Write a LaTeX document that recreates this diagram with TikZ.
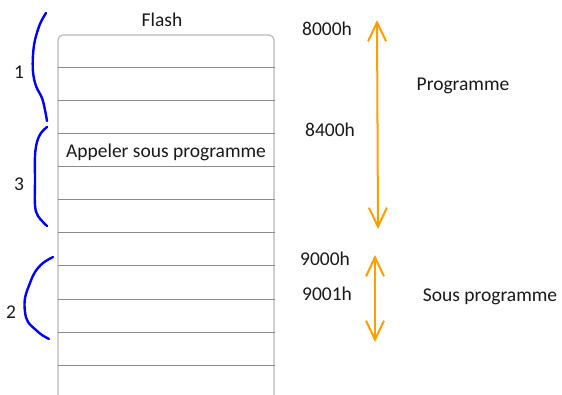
\documentclass[tikz,border=0pt]{standalone}
\usepackage{fontspec}
\setmainfont{Carlito}
\usetikzlibrary{arrows.meta}
\definecolor{arroworange}{RGB}{255,158,0}
\definecolor{braceblue}{RGB}{0,0,255}
\definecolor{rowgray}{RGB}{140,140,140}
\definecolor{sidegray}{RGB}{185,185,185}
\tikzset{
  lbl/.style={font=\fontsize{19.5}{23}\selectfont, inner sep=0pt, text=black!90},
  rowline/.style={rowgray, line width=1pt},
  sideline/.style={sidegray, line width=1.2pt, rounded corners=5pt},
  bracestroke/.style={braceblue, line width=2.4pt, line cap=round, line join=round},
  span/.style={arroworange, line width=2pt,
    {Straight Barb[length=19pt,width=18pt,line width=2pt]}-{Straight Barb[length=19pt,width=18pt,line width=2pt]}}
}
\begin{document}
\begin{tikzpicture}[x=1pt,y=-1pt]
\useasboundingbox (0,0) rectangle (562,395);

% memory column: sides and rounded top
\draw[sideline] (58,395) |- (274,35) -- (274,395);
\foreach \yy in {68,101,134,167,200,233,266,299,332,365}
  \draw[rowline] (58,\yy) -- (275,\yy);

\node[lbl] (flash) at (162,20) {Flash};
\node[lbl] (call) at (166,152) {Appeler sous programme};

% hand-drawn blue braces
\draw[bracestroke] plot[smooth, tension=0.6] coordinates
  {(46,13) (40,24) (35,40) (33,55) (33,72) (36,86) (42,98) (45,110) (47,121)};
\draw[bracestroke] plot[smooth, tension=0.6] coordinates
  {(47,127) (41,133) (37,142) (35,156) (35,180) (35,205) (38,216) (47,226)};
\draw[bracestroke] plot[smooth, tension=0.6] coordinates
  {(53,257) (43,263) (35,272) (30,283) (25,298) (25,312) (28,322) (36,330) (42,335) (49,339)};

\node[lbl] (n1) at (19,72) {1};
\node[lbl] (n3) at (19,184) {3};
\node[lbl] (n2) at (11,312) {2};

% address labels
\node[lbl] (a8000) at (327,29) {8000h};
\node[lbl] (a8400) at (330,130) {8400h};
\node[lbl] (a9000) at (325,259) {9000h};
\node[lbl] (a9001) at (327,294) {9001h};

\node[lbl] (prog) at (463,86) {Programme};
\node[lbl] (sprog) at (490,297) {Sous programme};

% extent arrows
\coordinate (p1) at (377,20);
\coordinate (p2) at (378,229);
\coordinate (s1) at (375,255);
\coordinate (s2) at (375,342);
\draw[span] (p1) -- (p2);
\draw[span] (s1) -- (s2);
\end{tikzpicture}
\end{document}
